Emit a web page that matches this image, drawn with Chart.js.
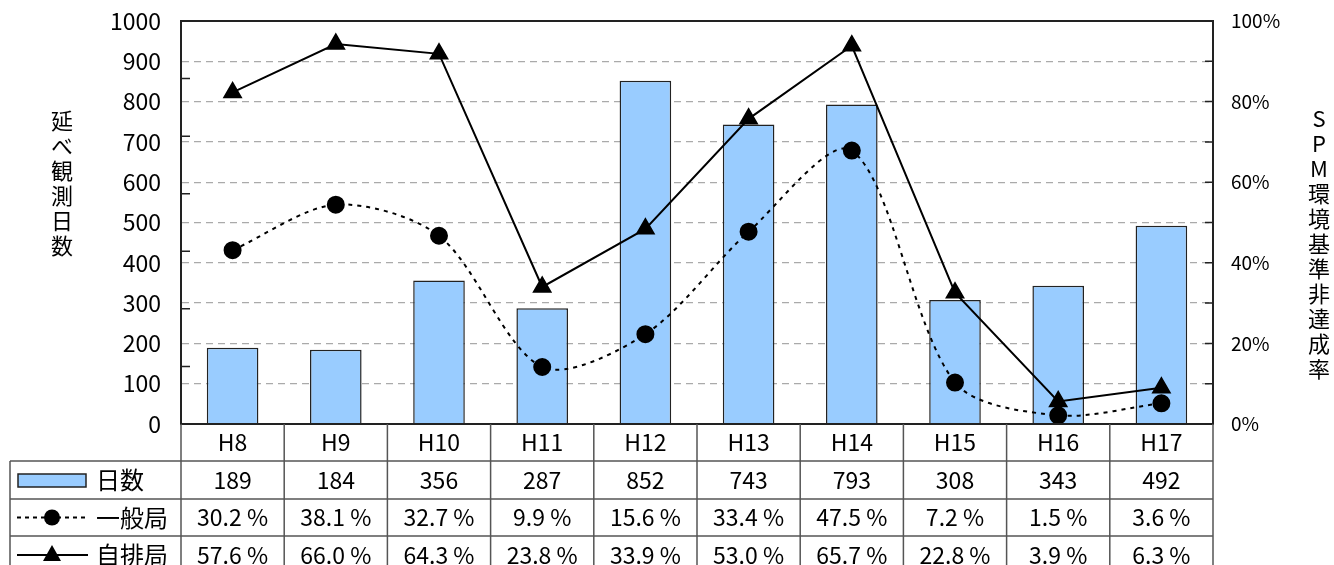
<!DOCTYPE html>
<html>
<head>
    <meta charset="utf-8">
    <title>SPM</title>
    <script src="https://cdn.jsdelivr.net/npm/chart.js"></script>
    <style>
        body { margin: 0; background: #fff; }
        #wrap { position: relative; width: 1334px; height: 565px; overflow: hidden; }
        .vtitle {
            position: absolute;
            writing-mode: vertical-rl;
            text-orientation: upright;
            font-family: "Noto Sans CJK JP", sans-serif;
            font-size: 22px;
            letter-spacing: 3px;
            line-height: 1;
            color: #000;
        }
    </style>
</head>
<body>
<div id="wrap">
    <canvas id="myChart" width="1334" height="565"></canvas>
    <div class="vtitle" style="left:51px; top:110px;">延べ観測日数</div>
    <div class="vtitle" style="left:1308px; top:108px;">SPM環境基準非達成率</div>
</div>
<script>
    const years = ['H8', 'H9', 'H10', 'H11', 'H12', 'H13', 'H14', 'H15', 'H16', 'H17'];
    const days = [189, 184, 356, 287, 852, 743, 793, 308, 343, 492];
    const ippan = [30.2, 38.1, 32.7, 9.9, 15.6, 33.4, 47.5, 7.2, 1.5, 3.6];
    const jihai = [57.6, 66.0, 64.3, 23.8, 33.9, 53.0, 65.7, 22.8, 3.9, 6.3];

    const FONT = '"Noto Sans CJK JP", sans-serif';
    const BAR_FILL = '#99ccff';

    // frame, inner tick marks and the data table under the plot
    const tablePlugin = {
        id: 'table',
        afterDraw(chart) {
            const ctx = chart.ctx;
            const ca = chart.chartArea;
            const yL = chart.scales.y, yR = chart.scales.y2;
            const n = years.length;
            const colW = (ca.right - ca.left) / n;
            ctx.save();

            ctx.strokeStyle = '#222';
            ctx.lineWidth = 2;
            ctx.strokeRect(ca.left, ca.top, ca.right - ca.left, ca.bottom - ca.top);

            ctx.lineWidth = 1.5;
            ctx.beginPath();
            for (let v = 0; v <= 70; v += 10) {
                const py = yR.getPixelForValue(v);
                ctx.moveTo(ca.left, py); ctx.lineTo(ca.left + 9, py);
            }
            for (let v = 0; v <= 1000; v += 100) {
                const py = yL.getPixelForValue(v);
                ctx.moveTo(ca.right - 8, py); ctx.lineTo(ca.right, py);
            }
            ctx.stroke();

            const rows = [ca.bottom, 461, 499, 536, 574];
            const H = chart.height;
            ctx.strokeStyle = '#555';
            ctx.lineWidth = 1.5;
            ctx.beginPath();
            for (let k = 0; k <= n; k++) {
                const px = ca.left + k * colW;
                ctx.moveTo(px, ca.bottom); ctx.lineTo(px, H);
            }
            for (let r = 1; r < 4; r++) {
                ctx.moveTo(10, rows[r]); ctx.lineTo(ca.right, rows[r]);
            }
            ctx.moveTo(10, rows[1]); ctx.lineTo(10, H);
            ctx.stroke();

            ctx.fillStyle = '#000';
            ctx.font = '23px ' + FONT;
            ctx.textAlign = 'center';
            ctx.textBaseline = 'middle';
            const texts = [
                years,
                days.map(String),
                ippan.map(v => v.toFixed(1) + ' %'),
                jihai.map(v => v.toFixed(1) + ' %')
            ];
            texts.forEach((row, r) => {
                const cy = (rows[r] + rows[r + 1]) / 2;
                row.forEach((t, i) => ctx.fillText(t, ca.left + (i + 0.5) * colW, cy));
            });

            // legend cells
            const names = ['日数', '一般局', '自排局'];
            ctx.textAlign = 'left';
            ctx.font = '24px ' + FONT;
            names.forEach((t, i) => {
                ctx.fillStyle = '#000';
                ctx.fillText(t, 96, (rows[i + 1] + rows[i + 2]) / 2);
            });

            let cy = (rows[1] + rows[2]) / 2;
            ctx.fillStyle = BAR_FILL;
            ctx.fillRect(18, cy - 6, 68, 13);
            ctx.strokeStyle = '#222';
            ctx.lineWidth = 1.5;
            ctx.strokeRect(18, cy - 6, 68, 13);

            cy = (rows[2] + rows[3]) / 2;
            ctx.strokeStyle = '#000';
            ctx.lineWidth = 2;
            ctx.setLineDash([4, 4]);
            ctx.beginPath();
            ctx.moveTo(17, cy); ctx.lineTo(88, cy);
            ctx.stroke();
            ctx.setLineDash([]);
            ctx.fillStyle = '#000';
            ctx.beginPath();
            ctx.arc(52, cy, 8, 0, Math.PI * 2);
            ctx.fill();

            cy = (rows[3] + rows[4]) / 2;
            ctx.beginPath();
            ctx.moveTo(17, cy); ctx.lineTo(88, cy);
            ctx.stroke();
            ctx.beginPath();
            ctx.moveTo(52, cy - 10); ctx.lineTo(61, cy + 6); ctx.lineTo(43, cy + 6);
            ctx.closePath();
            ctx.fill();

            ctx.restore();
        }
    };

    const ctx = document.getElementById('myChart').getContext('2d');
    new Chart(ctx, {
        type: 'bar',
        data: {
            labels: years,
            datasets: [{
                label: '日数',
                data: days,
                yAxisID: 'y',
                backgroundColor: BAR_FILL,
                borderColor: '#222',
                borderWidth: 1.5,
                categoryPercentage: 1,
                barPercentage: 0.5,
                order: 2
            }, {
                type: 'line',
                label: '一般局',
                data: ippan,
                yAxisID: 'y2',
                borderColor: '#000',
                borderWidth: 2,
                borderDash: [4, 5],
                tension: 0.3,
                pointStyle: 'circle',
                pointRadius: 8,
                pointBackgroundColor: '#000',
                pointBorderColor: '#000',
                order: 1
            }, {
                type: 'line',
                label: '自排局',
                data: jihai,
                yAxisID: 'y2',
                borderColor: '#000',
                borderWidth: 2,
                tension: 0,
                pointStyle: 'triangle',
                pointRadius: 9.5,
                pointBackgroundColor: '#000',
                pointBorderColor: '#000',
                order: 0
            }]
        },
        options: {
            responsive: false,
            animation: false,
            layout: { padding: { top: 21, left: 0, right: 0, bottom: 0 } },
            plugins: {
                legend: { display: false },
                tooltip: { enabled: false }
            },
            scales: {
                x: {
                    offset: true,
                    grid: { display: false, drawTicks: false },
                    ticks: { display: false },
                    border: { display: true, color: '#222', width: 2 },
                    afterFit: s => { s.height = 141; }
                },
                y: {
                    position: 'left',
                    min: 0,
                    max: 1000,
                    ticks: {
                        stepSize: 100, padding: 0, color: '#000',
                        font: { family: FONT, size: 23 },
                        callback: v => String(v)
                    },
                    // transparent tick marks keep the label gap without extra top padding
                    grid: { color: '#aaa', lineWidth: 1.3, drawTicks: true, tickLength: 20, tickColor: 'rgba(0,0,0,0)' },
                    border: { display: true, color: '#222', width: 2, dash: [7, 5] },
                    afterFit: s => { s.width = 181; }
                },
                y2: {
                    position: 'right',
                    min: 0,
                    max: 70,
                    ticks: {
                        stepSize: 7,
                        padding: 0,
                        color: '#000',
                        font: { family: FONT, size: 19 },
                        callback: (v, i) => i % 2 === 0 ? Math.round(v / 0.7) + '%' : ''
                    },
                    grid: { drawOnChartArea: false, drawTicks: true, tickLength: 18, tickColor: 'rgba(0,0,0,0)' },
                    border: { display: true, color: '#222', width: 2 },
                    afterFit: s => { s.width = 121; }
                }
            }
        },
        plugins: [tablePlugin]
    });
</script>
</body>
</html>
